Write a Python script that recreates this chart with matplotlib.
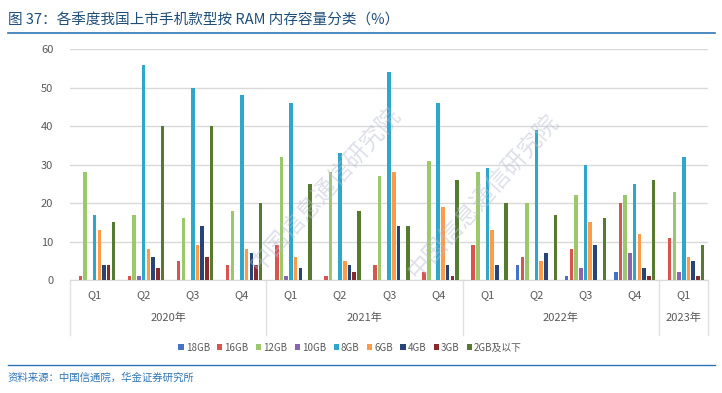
import matplotlib
matplotlib.use("Agg")
import matplotlib.pyplot as plt
import matplotlib.transforms as mtransforms
import numpy as np

plt.rcParams['font.family'] = ['Noto Sans CJK SC', 'DejaVu Sans']

quarters = ["Q1", "Q2", "Q3", "Q4", "Q1", "Q2", "Q3", "Q4", "Q1", "Q2", "Q3", "Q4", "Q1"]
years = ["2020年", "2021年", "2022年", "2023年"]
year_counts = [4, 4, 4, 1]

series_names = ["18GB", "16GB", "12GB", "10GB", "8GB", "6GB", "4GB", "3GB", "2GB及以下"]
gb18 = [0, 0, 0, 0, 0, 0, 0, 0, 0, 4, 1, 2, 0]
gb16 = [1, 1, 5, 4, 9, 1, 4, 2, 9, 6, 8, 20, 11]
gb12 = [28, 17, 16, 18, 32, 28, 27, 31, 28, 20, 22, 22, 23]
gb10 = [0, 1, 0, 0, 1, 0, 0, 0, 0, 0, 3, 7, 2]
gb8 = [17, 56, 50, 48, 46, 33, 54, 46, 29, 39, 30, 25, 32]
gb6 = [13, 8, 9, 8, 6, 5, 28, 19, 13, 5, 15, 12, 6]
gb4 = [4, 6, 14, 7, 3, 4, 14, 4, 4, 7, 9, 3, 5]
gb3 = [4, 3, 6, 4, 0, 2, 0, 1, 0, 0, 0, 1, 1]
gb2 = [15, 40, 40, 20, 25, 18, 14, 26, 20, 17, 16, 26, 9]
series = [gb18, gb16, gb12, gb10, gb8, gb6, gb4, gb3, gb2]
colors = ["#4472C4", "#D9534F", "#9BC86A", "#8B63AE", "#2FA7CA",
          "#FF9A4A", "#264478", "#8A2B2B", "#557A30"]

title = "图 37：各季度我国上市手机款型按 RAM 内存容量分类（%）"
source = "资料来源：中国信通院，华金证券研究所"

fig = plt.figure(figsize=(7.22, 3.93), dpi=100)
ax = fig.add_axes([0.097, 0.2875, 0.884, 0.5875])

x = np.arange(len(quarters))
slot = 0.096
width = 0.072
handles = []
for i, (vals, c, name) in enumerate(zip(series, colors, series_names)):
    b = ax.bar(x + (i - 4) * slot, vals, width=width, color=c, label=name, zorder=3)
    handles.append(b)

ax.set_xlim(-0.5, len(quarters) - 0.5)
ax.set_ylim(0, 60)
ax.set_yticks(range(0, 61, 10))
ax.yaxis.grid(True, color="#D9D9D9", linewidth=1.0, zorder=0)
ax.set_axisbelow(True)
for s in ["top", "right", "left"]:
    ax.spines[s].set_visible(False)
ax.spines["bottom"].set_color("#D9D9D9")
ax.tick_params(axis="y", length=0, labelsize=8, labelcolor="#595959", pad=12)
ax.set_xticks([])

trans = mtransforms.blended_transform_factory(ax.transData, ax.transAxes)
for xi, q in zip(x, quarters):
    ax.text(xi, -0.065, q, transform=trans, ha="center", va="center",
            fontsize=8, color="#595959")

start = 0
bounds = [-0.5]
for yname, cnt in zip(years, year_counts):
    center = start + (cnt - 1) / 2
    ax.text(center, -0.165, yname, transform=trans, ha="center", va="center",
            fontsize=8, color="#595959")
    start += cnt
    bounds.append(start - 0.5)
for bx in bounds:
    ax.plot([bx, bx], [0, -0.24], transform=trans, color="#E0E0E0",
            linewidth=1.0, clip_on=False)

# watermark text
for (wx, wy) in [(0.45, 0.52), (0.67, 0.50)]:
    fig.text(wx, wy, "中国信息通信研究院", rotation=48, fontsize=17,
             color="#B8BCD0", alpha=0.45, ha="center", va="center")

fig.legend(handles=handles, labels=series_names, loc="center",
           bbox_to_anchor=(0.485, 0.115), ncol=9, frameon=False,
           fontsize=7, handlelength=0.55, handleheight=0.55,
           handletextpad=0.2, columnspacing=0.75, labelcolor="#595959")

fig.text(0.011, 0.949, title, fontsize=10.5, color="#1F4E79", ha="left", va="center")
fig.add_artist(plt.Line2D([0.011, 0.99], [0.916, 0.916], color="#2E75B6",
                          linewidth=1.2, transform=fig.transFigure))
fig.add_artist(plt.Line2D([0.011, 0.99], [0.071, 0.071], color="#2E75B6",
                          linewidth=1.0, transform=fig.transFigure))
fig.text(0.011, 0.038, source, fontsize=7.5, color="#2E75B6", ha="left",
         va="center", style="italic")

fig.savefig("out.png", dpi=100)
